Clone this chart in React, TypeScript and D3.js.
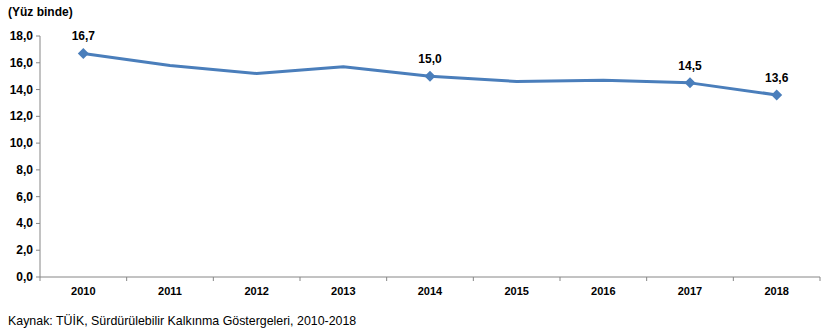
import React from "react";
import * as d3 from "d3";

const years = ["2010", "2011", "2012", "2013", "2014", "2015", "2016", "2017", "2018"];
const values = [16.7, 15.8, 15.2, 15.7, 15.0, 14.6, 14.7, 14.5, 13.6];
const labeled = ["2010", "2014", "2017", "2018"];
const yTicks = [0, 2, 4, 6, 8, 10, 12, 14, 16, 18];

const W = 834, H = 335;
const left = 40, right = 820, top = 36, bottom = 277;

export default function App() {
  const x = d3.scaleBand<string>().domain(years).range([left, right]);
  const y = d3.scaleLinear().domain([0, 18]).range([bottom, top]);
  const cx = (d: string) => (x(d) as number) + x.bandwidth() / 2;
  const line = d3.line<number>().x((_, i) => cx(years[i])).y((v) => y(v));
  const fmt = (v: number) => v.toFixed(1).replace(".", ",");
  const font = "'Liberation Sans', Arial, sans-serif";
  const bounds = [...years.map((d) => x(d) as number), right];
  return (
    <svg width={W} height={H} style={{ position: "absolute", left: 0, top: 0 }} fontFamily={font}>
      <rect width={W} height={H} fill="#fff" />
      <text x={8} y={16} fontSize={12} fontWeight="bold" fill="#000">(Yüz binde)</text>
      <line x1={left} x2={left} y1={top} y2={bottom} stroke="#868686" />
      <line x1={left} x2={right} y1={bottom} y2={bottom} stroke="#868686" />
      {yTicks.map((t) => (
        <g key={t}>
          <line x1={left - 4} x2={left} y1={y(t)} y2={y(t)} stroke="#868686" />
          <text x={33} y={y(t) + 4} fontSize={12} fontWeight="bold" textAnchor="end">{fmt(t)}</text>
        </g>
      ))}
      {bounds.map((b, i) => (
        <line key={i} x1={b} x2={b} y1={bottom} y2={bottom + 4} stroke="#868686" />
      ))}
      {years.map((d) => (
        <text key={d} x={cx(d)} y={295} fontSize={11} fontWeight="bold" textAnchor="middle">{d}</text>
      ))}
      <path d={line(values) || ""} fill="none" stroke="#4a7ebb" strokeWidth={3} strokeLinejoin="round" />
      {years.map((d, i) =>
        labeled.includes(d) ? (
          <g key={d}>
            <path
              d={`M${cx(d)},${y(values[i]) - 5.5}L${cx(d) + 5.5},${y(values[i])}L${cx(d)},${y(values[i]) + 5.5}L${cx(d) - 5.5},${y(values[i])}Z`}
              fill="#4a7ebb"
            />
            <text x={cx(d)} y={y(values[i]) - 13} fontSize={12} fontWeight="bold" textAnchor="middle">{fmt(values[i])}</text>
          </g>
        ) : null
      )}
      <text x={8} y={325} fontSize={12.4} fill="#000">Kaynak: TÜİK, Sürdürülebilir Kalkınma Göstergeleri, 2010-2018</text>
    </svg>
  );
}
